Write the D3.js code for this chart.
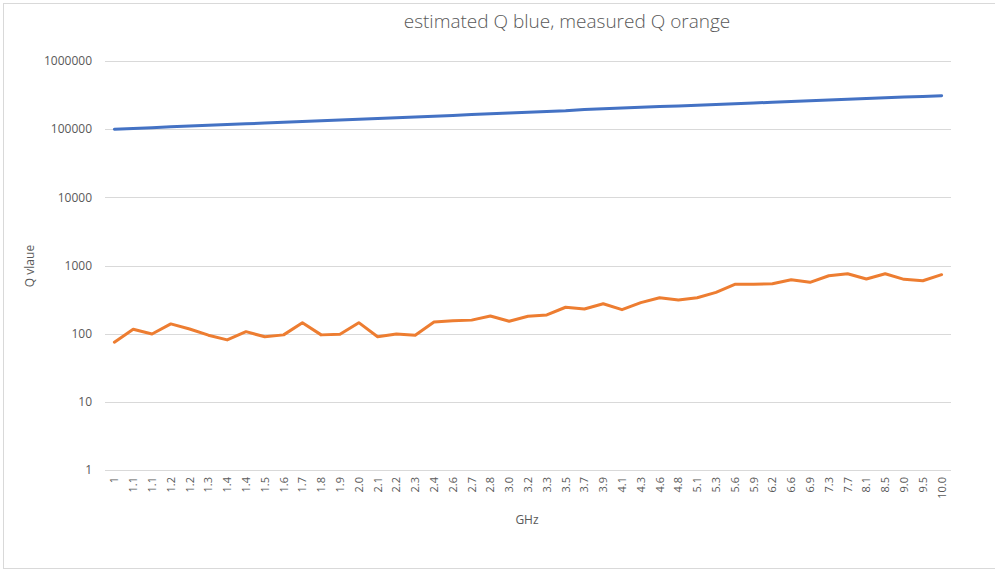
<!DOCTYPE html>
<html>
<head>
<meta charset="utf-8">
<script src="https://cdn.jsdelivr.net/npm/d3@7"></script>
<style>
	body { margin: 0; background: #fff; }
	text { font-family: "Open Sans", "Liberation Sans", sans-serif; fill: #595959; }
</style>
</head>
<body>
<div id="chart"></div>
<script>
// category labels (GHz), as shown on the axis
const freqLabels = ["1", "1.1", "1.1", "1.2", "1.2", "1.3", "1.4", "1.4", "1.5", "1.6",
	"1.7", "1.8", "1.9", "2.0", "2.1", "2.2", "2.3", "2.4", "2.6", "2.7",
	"2.8", "3.0", "3.2", "3.3", "3.5", "3.7", "3.9", "4.1", "4.3", "4.6",
	"4.8", "5.1", "5.3", "5.6", "5.9", "6.2", "6.6", "6.9", "7.3", "7.7",
	"8.1", "8.5", "9.0", "9.5", "10.0"]

// estimated Q (blue)
const estimatedQ = [100000, 102600, 105300, 108100, 110900, 113800, 116800, 119900, 123000, 126200,
	129500, 132900, 136400, 140000, 143700, 147400, 151300, 155200, 159300, 163500,
	167800, 172200, 176700, 181300, 186100, 194000, 198900, 203900, 209000, 214200,
	219500, 225000, 230600, 236400, 242300, 248400, 254600, 260900, 267500, 274100,
	281000, 288000, 295200, 302600, 310000]

// measured Q (orange)
const measuredQ = [75, 116, 99, 139, 117, 95, 81, 107, 90, 96,
	145, 96, 98, 145, 90, 99, 95, 148, 155, 158,
	182, 152, 180, 188, 244, 230, 275, 225, 285, 337,
	312, 337, 404, 530, 530, 541, 619, 566, 708, 758,
	634, 758, 627, 598, 733]

const yTicks = [1, 10, 100, 1000, 10000, 100000, 1000000]

const width = 995
const height = 571
const plot = { left: 105, right: 951, top: 61, bottom: 470 }

const svg = d3.select("#chart")
	.append("svg")
	.attr("width", width)
	.attr("height", height)

// chart border (runs off the right edge)
svg.append("rect")
	.attr("x", 3.5)
	.attr("y", 3.5)
	.attr("width", 1130)
	.attr("height", 565)
	.attr("fill", "none")
	.attr("stroke", "#d9d9d9")

const xScale = d3.scaleBand()
	.domain(d3.range(freqLabels.length))
	.range([plot.left, plot.right])

const yScale = d3.scaleLog()
	.domain([1, 1000000])
	.range([plot.bottom, plot.top])

// gridlines
svg.append("g")
	.selectAll("line")
	.data(yTicks)
	.join("line")
	.attr("x1", plot.left)
	.attr("x2", plot.right)
	.attr("y1", (d) => Math.round(yScale(d)) + 0.5)
	.attr("y2", (d) => Math.round(yScale(d)) + 0.5)
	.attr("stroke", "#d9d9d9")
	.attr("stroke-width", 1)

// y tick labels
svg.append("g")
	.selectAll("text")
	.data(yTicks)
	.join("text")
	.attr("x", 92)
	.attr("y", (d) => yScale(d))
	.attr("dy", "0.35em")
	.attr("text-anchor", "end")
	.style("font-size", "12px")
	.text((d) => d)

// x tick labels (rotated)
svg.append("g")
	.selectAll("text")
	.data(freqLabels)
	.join("text")
	.attr("transform", (d, i) =>
		`translate(${xScale(i) + xScale.bandwidth() / 2 + 4},477) rotate(-90)`)
	.attr("text-anchor", "end")
	.style("font-size", "11px")
	.text((d) => d)

const line = d3.line()
	.x((d, i) => xScale(i) + xScale.bandwidth() / 2)
	.y((d) => yScale(d))

svg.append("path")
	.datum(estimatedQ)
	.attr("fill", "none")
	.attr("stroke", "#4472c4")
	.attr("stroke-width", 3)
	.attr("stroke-linejoin", "round")
	.attr("stroke-linecap", "round")
	.attr("d", line)

svg.append("path")
	.datum(measuredQ)
	.attr("fill", "none")
	.attr("stroke", "#ed7d31")
	.attr("stroke-width", 3)
	.attr("stroke-linejoin", "round")
	.attr("stroke-linecap", "round")
	.attr("d", line)

// title
svg.append("text")
	.attr("x", 567)
	.attr("y", 28)
	.attr("text-anchor", "middle")
	.style("font-size", "19px")
	.style("font-weight", 300)
	.text("estimated Q blue, measured Q orange")

// axis titles
svg.append("text")
	.attr("x", 527)
	.attr("y", 524)
	.attr("text-anchor", "middle")
	.style("font-size", "12px")
	.text("GHz")

svg.append("text")
	.attr("transform", "translate(34,266) rotate(-90)")
	.attr("text-anchor", "middle")
	.style("font-size", "12px")
	.text("Q vlaue")
</script>
</body>
</html>
